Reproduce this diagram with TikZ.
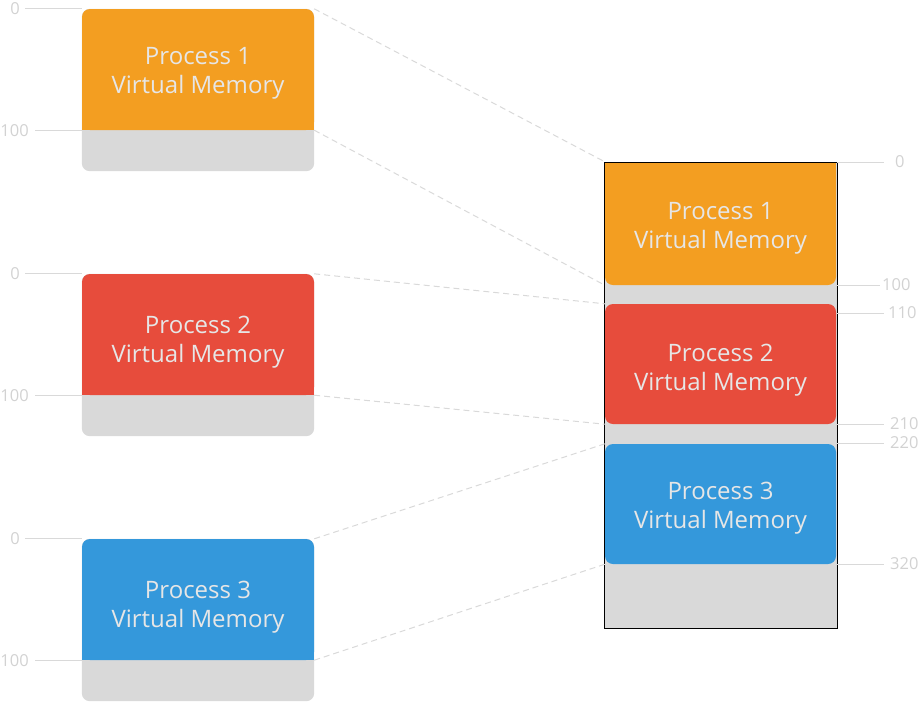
\documentclass[tikz,border=0pt]{standalone}
\usepackage{fontspec}
\setmainfont{Open Sans}
\usepackage{tikz}
\usetikzlibrary{backgrounds}
\definecolor{procA}{HTML}{F39E21}
\definecolor{procB}{HTML}{E74C3C}
\definecolor{procC}{HTML}{3498DB}
\definecolor{memgray}{HTML}{D9D9D9}
\definecolor{boxtext}{HTML}{E6E6E6}
\definecolor{ticktext}{HTML}{D2D2D2}
\tikzset{
  vmem/.style={rectangle, rounded corners=8pt, minimum width=232pt, minimum height=121pt, inner sep=0pt},
  pmem/.style={vmem, minimum width=231pt},
  vtext/.style={align=center, text=boxtext, inner sep=0pt, font=\fontsize{24}{29}\selectfont},
  tickline/.style={draw=memgray, line width=1pt},
  ticklabel/.style={text=ticktext, font=\fontsize{16.5}{18}\selectfont, inner sep=0pt},
  mapline/.style={draw=memgray, line width=1pt, dash pattern=on 6pt off 4pt}
}
\begin{document}
\begin{tikzpicture}[x=1pt,y=-1pt]
  \useasboundingbox (0,0) rectangle (920,702);

  \node[vmem, fill=procA] (p1) at (198,69.5) {};
  \node[vmem, fill=procB] (p2) at (198,334.5) {};
  \node[vmem, fill=procC] (p3) at (198,599.5) {};
  \fill[procA] ([yshift=10pt]p1.south west) rectangle (p1.south east);
  \fill[procB] ([yshift=10pt]p2.south west) rectangle (p2.south east);
  \fill[procC] ([yshift=10pt]p3.south west) rectangle (p3.south east);
  \node[vtext] (p1text) at (198,73.5) {Process 1\\Virtual Memory};
  \node[vtext] (p2text) at (198,342.5) {Process 2\\Virtual Memory};
  \node[vtext] (p3text) at (198,607.5) {Process 3\\Virtual Memory};

  \node[pmem, fill=procA, minimum height=123pt] (m1) at (720.5,223.5) {};
  \node[pmem, fill=procB, minimum height=120pt] (m2) at (720.5,364) {};
  \node[pmem, fill=procC, minimum height=120pt] (m3) at (720.5,504) {};
  \fill[procA] (m1.north west) rectangle ([yshift=-10pt]m1.north east);
  \node[vtext] (m1text) at (720.5,228.5) {Process 1\\Virtual Memory};
  \node[vtext] (m2text) at (720.5,370.5) {Process 2\\Virtual Memory};
  \node[vtext] (m3text) at (720.5,508.5) {Process 3\\Virtual Memory};

  \begin{scope}[on background layer]
    \fill[memgray, rounded corners=8pt] (p1.north west) rectangle ([yshift=-41pt]p1.south east);
    \fill[memgray, rounded corners=8pt] (p2.north west) rectangle ([yshift=-41pt]p2.south east);
    \fill[memgray, rounded corners=8pt] (p3.north west) rectangle ([yshift=-41pt]p3.south east);
    \fill[memgray] (604,162) rectangle (837,628);
  \end{scope}
  \draw[line width=1pt] (604,162) rectangle (837,628);

  \foreach \b in {p1,p2,p3} {
    \coordinate (\b top) at (25,0 |- \b.north west);
    \coordinate (\b bot) at (35,0 |- \b.south west);
    \draw[tickline] (\b top) -- (\b.north west);
    \draw[tickline] (\b bot) -- (\b.south west);
    \node[ticklabel, anchor=east] at ([xshift=-5pt]\b top) {0};
    \node[ticklabel, anchor=east] at ([xshift=-6pt]\b bot) {100};
  }

  \foreach \y/\x/\l/\t in {162/884/895/0, 285/880/882/100, 313/884/888/110, 424/884/890/210, 443/884/890/220, 564/884/890/320} {
    \coordinate (t\t) at (\x,\y);
    \draw[tickline] (837,\y) -- (t\t);
    \node[ticklabel, anchor=west] at (\l,\y) {\t};
  }

  \draw[mapline] (p1.north east) -- (m1.north west);
  \draw[mapline] (p1.south east) -- (m1.south west);
  \draw[mapline] (p2.north east) -- (m2.north west);
  \draw[mapline] (p2.south east) -- (m2.south west);
  \draw[mapline] (p3.north east) -- (m3.north west);
  \draw[mapline] (p3.south east) -- (m3.south west);
\end{tikzpicture}
\end{document}
